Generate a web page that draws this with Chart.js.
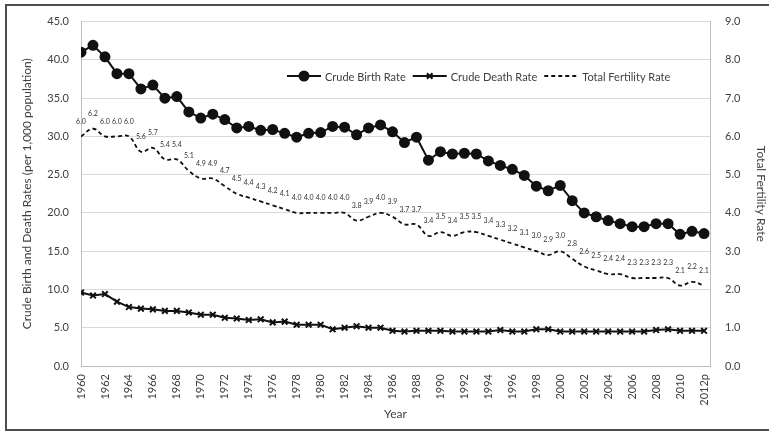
<!DOCTYPE html>
<html>
<head>
<meta charset="utf-8">
<title>Crude Birth, Death and Total Fertility Rates</title>
<script src="https://cdn.jsdelivr.net/npm/chart.js@4.4.1/dist/chart.umd.min.js"></script>
<style>
  html, body { margin: 0; padding: 0; background: #fff; }
  #wrap { position: relative; width: 769px; height: 432px; overflow: hidden; }
  #frame {
    position: absolute; left: 5px; top: 4px; width: 775px; height: 427px;
    border: 2px solid #4d4d4d; box-sizing: border-box; pointer-events: none;
  }
</style>
</head>
<body>
<div id="wrap">
  <canvas id="chart"></canvas>
  <div id="frame"></div>
</div>
<script>
// data
const years = ['1960','1961','1962','1963','1964','1965','1966','1967','1968','1969',
  '1970','1971','1972','1973','1974','1975','1976','1977','1978','1979',
  '1980','1981','1982','1983','1984','1985','1986','1987','1988','1989',
  '1990','1991','1992','1993','1994','1995','1996','1997','1998','1999',
  '2000','2001','2002','2003','2004','2005','2006','2007','2008','2009',
  '2010','2011','2012p'];

const birthRate = [41.0, 41.9, 40.4, 38.2, 38.2, 36.2, 36.7, 35.0, 35.2, 33.2,
  32.4, 32.9, 32.2, 31.1, 31.3, 30.8, 30.9, 30.4, 29.9, 30.4,
  30.5, 31.3, 31.2, 30.2, 31.1, 31.5, 30.6, 29.2, 29.9, 26.9,
  28.0, 27.7, 27.8, 27.7, 26.8, 26.2, 25.7, 24.9, 23.5, 22.9,
  23.6, 21.6, 20.0, 19.5, 19.0, 18.6, 18.2, 18.2, 18.6, 18.6,
  17.2, 17.6, 17.3];

const deathRate = [9.6, 9.2, 9.4, 8.4, 7.7, 7.5, 7.4, 7.2, 7.2, 7.0,
  6.7, 6.7, 6.3, 6.2, 6.0, 6.1, 5.7, 5.8, 5.4, 5.4,
  5.4, 4.8, 5.0, 5.2, 5.0, 5.0, 4.6, 4.5, 4.6, 4.6,
  4.6, 4.5, 4.5, 4.5, 4.5, 4.7, 4.5, 4.5, 4.8, 4.8,
  4.5, 4.5, 4.5, 4.5, 4.5, 4.5, 4.5, 4.5, 4.7, 4.8,
  4.6, 4.6, 4.6];

const fertilityRate = [6.0, 6.2, 6.0, 6.0, 6.0, 5.6, 5.7, 5.4, 5.4, 5.1,
  4.9, 4.9, 4.7, 4.5, 4.4, 4.3, 4.2, 4.1, 4.0, 4.0,
  4.0, 4.0, 4.0, 3.8, 3.9, 4.0, 3.9, 3.7, 3.7, 3.4,
  3.5, 3.4, 3.5, 3.5, 3.4, 3.3, 3.2, 3.1, 3.0, 2.9,
  3.0, 2.8, 2.6, 2.5, 2.4, 2.4, 2.3, 2.3, 2.3, 2.3,
  2.1, 2.2, 2.1];

const seriesNames = ['Crude Birth Rate', 'Crude Death Rate', 'Total Fertility Rate'];

const FONT = 'Lato';
const TEXT = '#404040';
const INK = '#111';

const toPoints = arr => arr.map((v, i) => ({ x: i, y: v }));

// value labels above the fertility line
const tfrLabels = {
  id: 'tfrLabels',
  afterDatasetsDraw(chart) {
    const meta = chart.getDatasetMeta(2);
    const ctx = chart.ctx;
    ctx.save();
    ctx.font = '7px ' + FONT;
    ctx.fillStyle = '#333';
    ctx.textAlign = 'center';
    ctx.textBaseline = 'middle';
    meta.data.forEach((pt, i) => {
      ctx.fillText(fertilityRate[i].toFixed(1), pt.x, pt.y - 15);
    });
    ctx.restore();
  }
};

// legend drawn inside the plot, Excel style
const insideLegend = {
  id: 'insideLegend',
  afterDraw(chart) {
    const ctx = chart.ctx;
    const y = 76;
    let x = 287;
    ctx.save();
    ctx.font = '11px ' + FONT;
    ctx.textBaseline = 'middle';
    chart.data.datasets.forEach((ds, i) => {
      ctx.strokeStyle = INK;
      ctx.lineWidth = ds.borderWidth;
      ctx.setLineDash(ds.borderDash || []);
      ctx.beginPath();
      ctx.moveTo(x, y);
      ctx.lineTo(x + 34, y);
      ctx.stroke();
      ctx.setLineDash([]);
      if (ds.pointRadius) {
        Chart.helpers.drawPoint(ctx, {
          pointStyle: ds.pointStyle,
          radius: ds.pointRadius,
          borderWidth: ds.pointBorderWidth || 1
        }, x + 17, y);
        if (ds.pointStyle === 'circle') { ctx.fillStyle = INK; ctx.fill(); }
      }
      x += 38;
      ctx.fillStyle = TEXT;
      ctx.fillText(seriesNames[i], x, y + 1);
      x += ctx.measureText(seriesNames[i]).width + 7;
    });
    ctx.restore();
  }
};

const ctx = document.getElementById('chart').getContext('2d');
new Chart(ctx, {
  type: 'line',
  data: {
    datasets: [
      {
        label: seriesNames[0],
        data: toPoints(birthRate),
        yAxisID: 'y',
        borderColor: INK,
        backgroundColor: INK,
        borderWidth: 2,
        pointStyle: 'circle',
        pointRadius: 4.5,
        pointBackgroundColor: INK,
        pointBorderColor: INK,
        tension: 0
      },
      {
        label: seriesNames[1],
        data: toPoints(deathRate),
        yAxisID: 'y',
        borderColor: INK,
        backgroundColor: INK,
        borderWidth: 2,
        pointStyle: 'crossRot',
        pointRadius: 4,
        pointBorderWidth: 2,
        pointBorderColor: INK,
        tension: 0
      },
      {
        label: seriesNames[2],
        data: toPoints(fertilityRate),
        yAxisID: 'y1',
        borderColor: INK,
        borderWidth: 1.8,
        borderDash: [4, 3],
        pointRadius: 0,
        tension: 0.4
      }
    ]
  },
  options: {
    responsive: true,
    maintainAspectRatio: false,
    animation: false,
    layout: { padding: { top: 20, left: 0, right: 0, bottom: 0 } },
    plugins: {
      legend: { display: false },
      tooltip: { enabled: false }
    },
    scales: {
      x: {
        type: 'linear',
        min: 0,
        max: 52.5,
        grid: { display: false, drawTicks: false },
        border: { display: true, color: '#bfbfbf' },
        afterBuildTicks: s => {
          s.ticks = years.map((y, i) => ({ value: i })).filter(t => t.value % 2 === 0);
        },
        afterFit: s => { s.height = 66; },
        ticks: {
          autoSkip: false,
          minRotation: 90,
          maxRotation: 90,
          padding: 8,
          color: TEXT,
          font: { family: FONT, size: 11 },
          callback: v => years[v] || ''
        },
        title: {
          display: true,
          text: 'Year',
          color: TEXT,
          font: { family: FONT, size: 12 },
          padding: { top: 0, bottom: 11 }
        }
      },
      y: {
        position: 'left',
        min: 0,
        max: 45,
        grid: { color: '#d9d9d9', drawTicks: false },
        border: { display: true, color: '#bfbfbf' },
        afterFit: s => { s.width = 81; },
        ticks: {
          stepSize: 5,
          padding: 12,
          color: TEXT,
          font: { family: FONT, size: 11 },
          callback: v => v.toFixed(1)
        },
        title: {
          display: true,
          text: 'Crude Birth and Death Rates (per 1,000 population)',
          color: TEXT,
          font: { family: FONT, size: 12 },
          padding: { top: 20, bottom: 0 }
        }
      },
      y1: {
        position: 'right',
        min: 0,
        max: 9,
        grid: { drawOnChartArea: false, drawTicks: false },
        border: { display: true, color: '#bfbfbf' },
        afterFit: s => { s.width = 59; },
        ticks: {
          stepSize: 1,
          padding: 15,
          color: TEXT,
          font: { family: FONT, size: 11 },
          callback: v => v.toFixed(1)
        },
        title: {
          display: true,
          text: 'Total Fertility Rate',
          color: TEXT,
          font: { family: FONT, size: 12 },
          padding: { top: 1, bottom: 0 }
        }
      }
    }
  },
  plugins: [tfrLabels, insideLegend]
});
</script>
</body>
</html>
